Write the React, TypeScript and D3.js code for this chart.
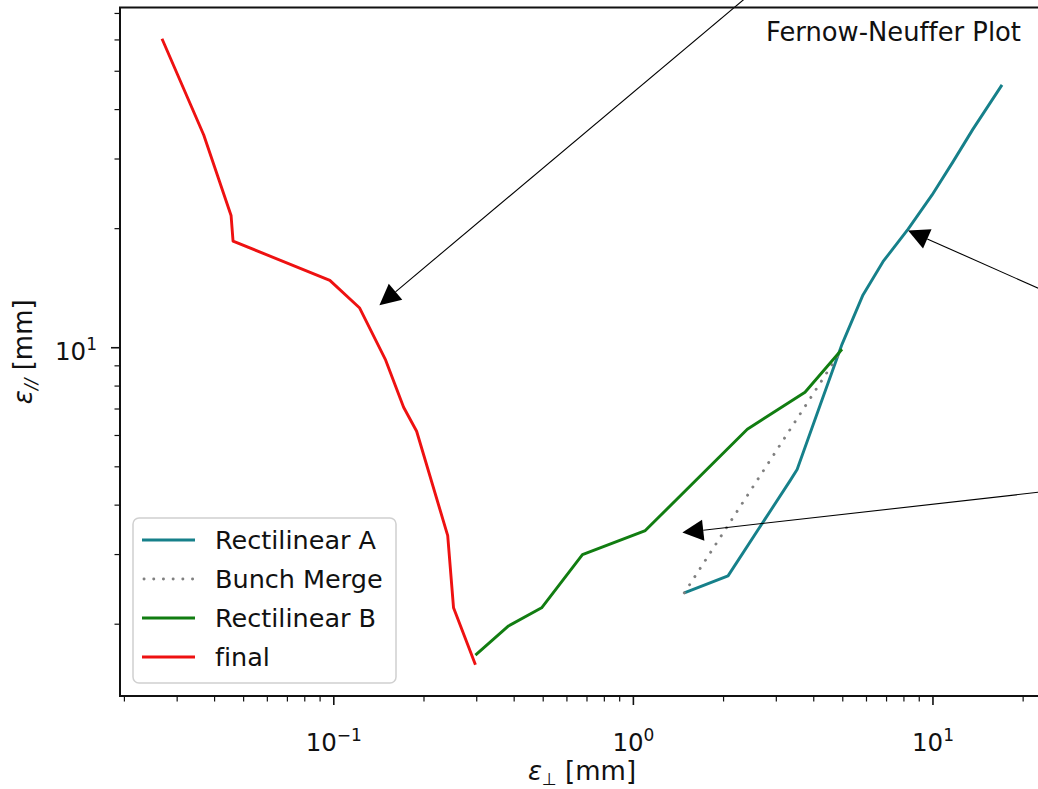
import React from "react";
import * as d3 from "d3";

// Rectilinear A  (eps_perp, eps_par) in mm
const rectAX = [1.479, 2.07, 3.34, 3.52, 4.2, 4.97, 5.84, 6.81, 8.26, 9.92, 11.66, 13.6, 17.0];
const rectAY = [2.4, 2.65, 4.62, 4.92, 7.15, 10.2, 13.6, 16.5, 19.95, 24.3, 29.5, 35.7, 46.2];

// Bunch merge
const mergeX = [1.479, 4.97];
const mergeY = [2.4, 9.91];

// Rectilinear B
const rectBX = [0.297, 0.383, 0.494, 0.676, 1.096, 2.4, 3.74, 4.97];
const rectBY = [1.67, 1.98, 2.2, 3.0, 3.45, 6.22, 7.72, 9.91];

// final
const finalX = [0.0267, 0.0368, 0.0454, 0.0461, 0.097, 0.122, 0.149, 0.171, 0.189, 0.24, 0.251, 0.297];
const finalY = [60.4, 34.5, 21.6, 18.6, 14.8, 12.6, 9.3, 7.07, 6.15, 3.35, 2.2, 1.58];

// annotation arrows: target point and text point (text lies outside the picture)
const arrowTo = [[0.142, 12.8], [8.26, 19.8], [1.457, 3.41]];
const arrowFrom = [[3.0, 89], [30.9, 12.7], [30.9, 4.43]];

const xMajor = [0.1, 1, 10];
const xMajorLabels = ["\u22121", "0", "1"];
const yMajor = [10];
const yMajorLabels = ["1"];

const series = [
  { name: "Rectilinear A", xs: rectAX, ys: rectAY, color: "#16808a", dotted: false },
  { name: "Bunch Merge", xs: mergeX, ys: mergeY, color: "#808080", dotted: true },
  { name: "Rectilinear B", xs: rectBX, ys: rectBY, color: "#117d11", dotted: false },
  { name: "final", xs: finalX, ys: finalY, color: "#ee1111", dotted: false },
];

const W = 1038;
const H = 789;
const m = { left: 120, top: 7.5, right: 1044, bottom: 696 };
const font = "DejaVu Sans, sans-serif";
const lw = 2.9;

function logExtent(vals: number[]) {
  const lo = Math.log10(d3.min(vals)!);
  const hi = Math.log10(d3.max(vals)!);
  const pad = (hi - lo) * 0.05;
  return [Math.pow(10, lo - pad), Math.pow(10, hi + pad)];
}

export default function App() {
  const allX = series.flatMap((s) => s.xs);
  const allY = series.flatMap((s) => s.ys);
  const x = d3.scaleLog().domain(logExtent(allX)).range([m.left, m.right]);
  const y = d3.scaleLog().domain(logExtent(allY)).range([m.bottom, m.top]);

  const line = d3
    .line<[number, number]>()
    .x((d) => x(d[0]))
    .y((d) => y(d[1]));

  const [x0, x1] = x.domain();
  const [y0, y1] = y.domain();
  const minorX: number[] = [];
  for (let e = -3; e <= 2; e++)
    for (let k = 2; k <= 9; k++) {
      const v = k * Math.pow(10, e);
      if (v >= x0 && v <= x1) minorX.push(v);
    }
  const minorY: number[] = [];
  for (let e = -1; e <= 2; e++)
    for (let k = 2; k <= 9; k++) {
      const v = k * Math.pow(10, e);
      if (v >= y0 && v <= y1) minorY.push(v);
    }

  const ink = "#111";

  // arrow geometry
  const arrows = arrowTo.map((t, i) => {
    const tx = x(t[0]);
    const ty = y(t[1]);
    const fx = x(arrowFrom[i][0]);
    const fy = y(arrowFrom[i][1]);
    const dx = fx - tx;
    const dy = fy - ty;
    const len = Math.hypot(dx, dy);
    const ux = dx / len;
    const uy = dy / len;
    const hl = 21;
    const hw = 10.5;
    const bx = tx + ux * hl;
    const by = ty + uy * hl;
    const head = [
      [tx, ty],
      [bx - uy * hw, by + ux * hw],
      [bx + uy * hw, by - ux * hw],
    ];
    return { fx, fy, bx, by, head };
  });

  const legX = 133;
  const legY = 518;
  const legRow = 39;

  const strokeProps = (dotted: boolean) =>
    dotted
      ? { strokeDasharray: "0.1,9.6", strokeLinecap: "round" as const }
      : { strokeLinecap: "butt" as const };

  return (
    <svg
      width={W}
      height={H}
      style={{ position: "absolute", left: 0, top: 0, background: "#fff", fontVariantLigatures: "none" }}
      fontFamily={font}
    >
      <defs>
        <clipPath id="plot">
          <rect x={m.left} y={m.top} width={m.right - m.left} height={m.bottom - m.top} />
        </clipPath>
      </defs>

      <g clipPath="url(#plot)" fill="none" strokeLinejoin="round">
        {series.map((s) => (
          <path
            key={s.name}
            d={line(s.xs.map((v, i) => [v, s.ys[i]] as [number, number]))!}
            stroke={s.color}
            strokeWidth={lw}
            {...strokeProps(s.dotted)}
          />
        ))}
      </g>

      {/* annotation arrows */}
      {arrows.map((a, i) => (
        <g key={i}>
          <line x1={a.fx} y1={a.fy} x2={a.bx} y2={a.by} stroke="#000" strokeWidth={1.1} />
          <polygon points={a.head.map((p) => p.join(",")).join(" ")} fill="#000" />
        </g>
      ))}

      {/* frame */}
      <rect
        x={m.left}
        y={m.top}
        width={m.right - m.left}
        height={m.bottom - m.top}
        fill="none"
        stroke={ink}
        strokeWidth={2}
      />

      {/* x ticks */}
      {xMajor.map((v, i) => (
        <g key={"xm" + v}>
          <line x1={x(v)} x2={x(v)} y1={m.bottom} y2={m.bottom + 9} stroke={ink} strokeWidth={1.6} />
          <text x={x(v)} y={751} textAnchor="middle" fontSize={24.5} fill={ink}>
            10
            <tspan fontSize={17} dy={-10}>
              {xMajorLabels[i]}
            </tspan>
          </text>
        </g>
      ))}
      {minorX.map((v) => (
        <line key={"xn" + v} x1={x(v)} x2={x(v)} y1={m.bottom} y2={m.bottom + 5.5} stroke={ink} strokeWidth={1.2} />
      ))}

      {/* y ticks */}
      {yMajor.map((v, i) => (
        <g key={"ym" + v}>
          <line x1={m.left - 9} x2={m.left} y1={y(v)} y2={y(v)} stroke={ink} strokeWidth={1.6} />
          <text x={97} y={y(v) + 12} textAnchor="end" fontSize={24.5} fill={ink}>
            10
            <tspan fontSize={17} dy={-10}>
              {yMajorLabels[i]}
            </tspan>
          </text>
        </g>
      ))}
      {minorY.map((v) => (
        <line key={"yn" + v} x1={m.left - 5.5} x2={m.left} y1={y(v)} y2={y(v)} stroke={ink} strokeWidth={1.2} />
      ))}

      {/* axis labels */}
      <text x={(m.left + m.right) / 2} y={780} textAnchor="middle" fontSize={26} fill={ink}>
        <tspan fontStyle="italic">ε</tspan>
        <tspan fontSize={17} dy={5}>⊥</tspan>
        <tspan dy={-5}> [mm]</tspan>
      </text>
      <text
        transform={`translate(32,${(m.top + m.bottom) / 2}) rotate(-90)`}
        textAnchor="middle"
        fontSize={26}
        fill={ink}
      >
        <tspan fontStyle="italic">ε</tspan>
        <tspan fontSize={17} fontStyle="italic" dy={5}>//</tspan>
        <tspan dy={-5}> [mm]</tspan>
      </text>

      {/* title inside axes */}
      <text x={1021} y={41} textAnchor="end" fontSize={25.8} fill={ink}>
        Fernow-Neuffer Plot
      </text>

      {/* legend */}
      <rect
        x={legX}
        y={legY}
        width={263}
        height={165}
        rx={6}
        fill="#fff"
        fillOpacity={0.8}
        stroke="#d0d0d0"
        strokeWidth={1.5}
      />
      {series.map((s, i) => (
        <g key={"leg" + s.name} transform={`translate(0,${legY + 22 + i * legRow})`}>
          <line
            x1={s.dotted ? 144 : 142}
            x2={195}
            y1={0}
            y2={0}
            stroke={s.color}
            strokeWidth={lw}
            {...strokeProps(s.dotted)}
          />
          <text x={215} y={9} fontSize={25.5} fill={ink}>
            {s.name}
          </text>
        </g>
      ))}
    </svg>
  );
}
